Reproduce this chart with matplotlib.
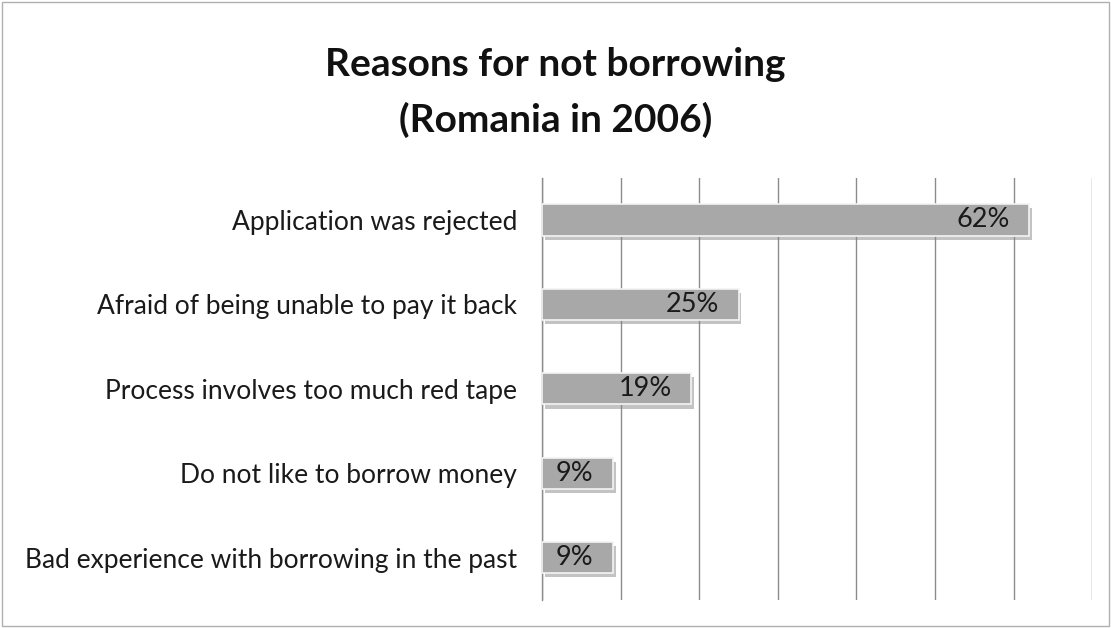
import matplotlib.pyplot as plt
import matplotlib.patheffects as pe

# Data
reasons = [
    "Application was rejected",
    "Afraid of being unable to pay it back",
    "Process involves too much red tape",
    "Do not like to borrow money",
    "Bad experience with borrowing in the past",
]
shares = [62, 25, 19, 9, 9]
grid_ticks = [0, 10, 20, 30, 40, 50, 60, 70]

plt.rcParams["font.family"] = ["Lato", "DejaVu Sans"]

fig = plt.figure(figsize=(11.11, 6.28), dpi=100)
ax = fig.add_axes([0.488, 0.045, 0.495, 0.672])

# Outer frame of the chart area
fig.patches.append(plt.Rectangle((0.002, 0.003), 0.996, 0.994, transform=fig.transFigure,
                                 fill=False, edgecolor="#b0b0b0", linewidth=1.0))

bars = ax.barh(range(len(reasons)), shares, height=0.37, color="#a8a8a8",
               edgecolor="#f4f4f4", linewidth=1.2, zorder=3)
for b in bars:
    b.set_path_effects([pe.SimplePatchShadow(offset=(2, -3), shadow_rgbFace="#888888", alpha=0.5),
                        pe.Normal()])

for i, v in enumerate(shares):
    ax.text(v - 2.5, i, f"{v}%", ha="right", va="center", fontsize=19.5,
            color="#1a1a1a", zorder=4)

ax.set_xlim(0, 70)
ax.set_ylim(len(reasons) - 0.5, -0.5)
ax.set_xticks(grid_ticks)
ax.set_xticklabels([])
ax.tick_params(axis="x", length=0)
ax.tick_params(axis="y", length=0, pad=18, labelsize=19, labelcolor="#1a1a1a")
ax.set_yticks(range(len(reasons)))
ax.set_yticklabels(reasons)
ax.grid(axis="x", color="#8c8c8c", linewidth=1.0, zorder=0)
for side in ["top", "right", "bottom"]:
    ax.spines[side].set_visible(False)
ax.spines["left"].set_color("#8c8c8c")
ax.spines["left"].set_linewidth(1.0)

fig.text(0.5, 0.925, "Reasons for not borrowing\n(Romania in 2006)", ha="center", va="top",
         fontsize=28, fontweight="bold", color="#111111", linespacing=1.65)

fig.savefig("out.png", dpi=100)
